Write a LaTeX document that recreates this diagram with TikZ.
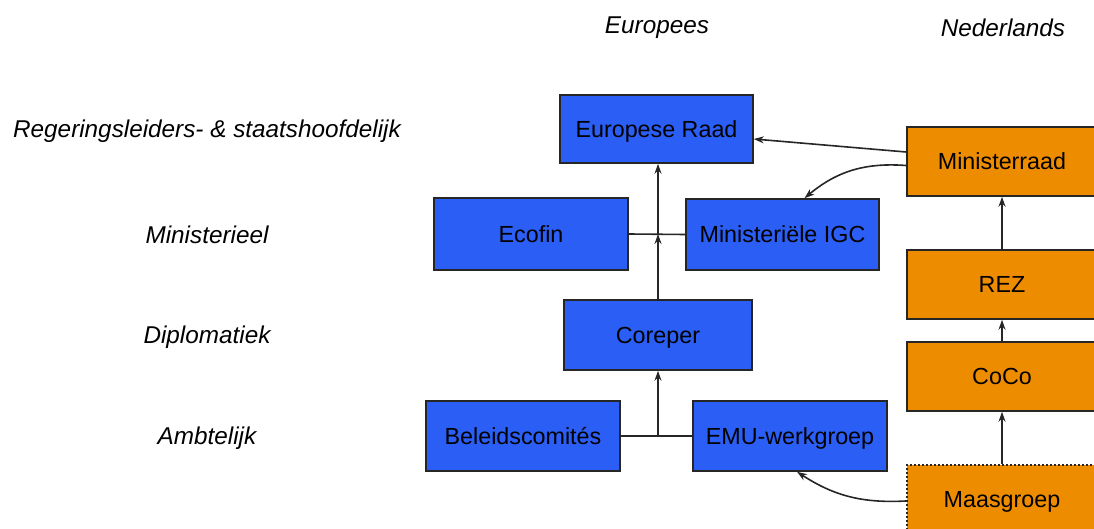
\documentclass[tikz,border=0pt]{standalone}
\usepackage{fontspec}
\setmainfont{Liberation Sans}
\usetikzlibrary{arrows.meta}
\definecolor{eublue}{RGB}{43,94,245}
\definecolor{nlorange}{RGB}{238,140,0}
\tikzset{
  eubox/.style={draw=black!85,line width=1.6pt,fill=eublue,minimum width=194pt,minimum height=70pt,inner sep=0pt,text depth=0pt,font=\fontsize{23.3}{27}\selectfont},
  nlbox/.style={eubox,fill=nlorange,minimum width=190pt,minimum height=69pt},
  lvl/.style={font=\fontsize{24.3}{28}\selectfont\itshape},
  pijl/.style={-{Stealth[length=10pt,width=7pt]},line width=1.6pt,draw=black!85}
}
\begin{document}
\begin{tikzpicture}[x=1pt,y=-1pt]
\useasboundingbox (0,0) rectangle (1094,529);
% kolommen en niveaus
\node[lvl] (eu) at (657,28) {Europees};
\node[lvl] (nl) at (1003,28) {Nederlands};
\node[lvl] (l1) at (207,131) {Regeringsleiders- \& staatshoofdelijk};
\node[lvl] (l2) at (207,235) {Ministerieel};
\node[lvl] (l3) at (207,337) {Diplomatiek};
\node[lvl] (l4) at (207,438) {Ambtelijk};
% Europees
\node[eubox,minimum width=193pt,minimum height=68pt] (raad) at (656.5,129) {Europese Raad};
\node[eubox,minimum height=72pt] (ecofin) at (531,234) {Ecofin};
\node[eubox,minimum width=193pt,minimum height=71pt] (igc) at (782.5,234.5) {Ministeriële IGC};
\node[eubox,minimum width=188pt] (coreper) at (658,335) {Coreper};
\node[eubox] (beleid) at (523,436) {Beleidscomités};
\node[eubox] (emu) at (790,436) {EMU-werkgroep};
% Nederlands
\node[nlbox] (minraad) at (1002,161.5) {Ministerraad};
\node[nlbox] (rez) at (1002,284.5) {REZ};
\node[nlbox] (coco) at (1002,376.5) {CoCo};
\node[nlbox,line width=2pt,dash pattern=on 2pt off 2pt] (maas) at (1002,499.5) {Maasgroep};
% verbindingen
\coordinate (mj) at (coreper.north |- ecofin.east);
\coordinate (aj) at (coreper.south |- beleid.east);
\draw[line width=1.6pt,draw=black!85] (ecofin.east) -- (igc.west);
\draw[pijl] (coreper.north) -- (mj);
\draw[pijl] (mj) -- (mj |- raad.south);
\draw[line width=1.6pt,draw=black!85] (beleid.east) -- (emu.west);
\draw[pijl] (aj) -- (coreper.south);
\draw[pijl] ([yshift=9.5pt]minraad.west) -- ([yshift=-10pt]raad.east);
\draw[pijl] ([yshift=-4pt]minraad.west) to[bend right=22] ([xshift=22pt]igc.north);
\draw[pijl] (rez) -- (minraad);
\draw[pijl] (coco) -- (rez);
\draw[pijl] (maas) -- (coco);
\draw[pijl] ([yshift=-1.5pt]maas.west) to[bend left=18] ([xshift=7pt]emu.south);
\end{tikzpicture}
\end{document}
